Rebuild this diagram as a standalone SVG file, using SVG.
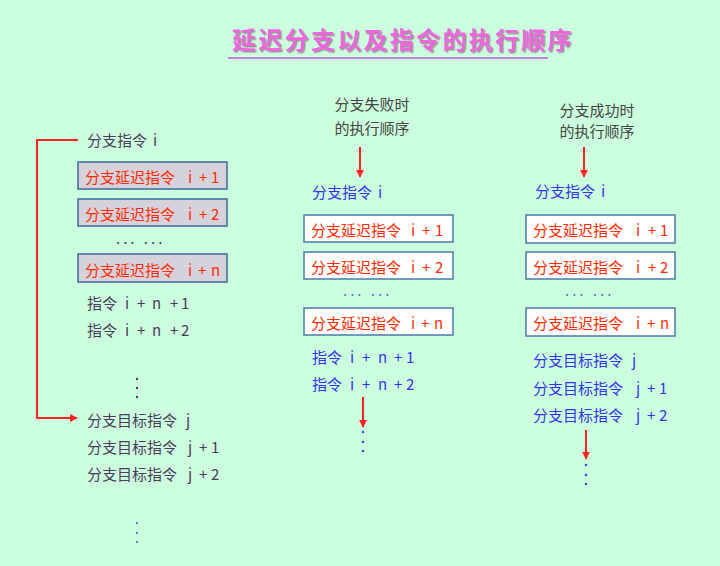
<svg xmlns="http://www.w3.org/2000/svg" width="720" height="566" viewBox="0 0 720 566">
<style>
text{font-family:"Noto Sans CJK SC","Liberation Sans",sans-serif;font-size:15px}
.dk{fill:#4B3B5B}
.bl{fill:#3333EE}
.cap{fill:#444444;text-anchor:middle}
.rt{fill:#FF2A00}
.gbox{fill:#D6D2DC;stroke:#3A6A9A;stroke-width:1.5}
.wbox{fill:#FFFFFF;stroke:#4A7AAA;stroke-width:1.5}
.ln{stroke:#FF2222;stroke-width:2;fill:none}
.dot{fill:#4B3B5B}
.bdot{fill:#3355DD}
</style>
<defs>
<marker id="ah" viewBox="0 0 10 10" refX="9" refY="5" markerWidth="4" markerHeight="4" orient="auto">
<path d="M0,0 L10,5 L0,10 z" fill="#FF2222"/>
</marker>
<filter id="sh" x="-5%" y="-20%" width="110%" height="150%">
<feDropShadow dx="1.5" dy="1.5" stdDeviation="0.6" flood-color="#999999"/>
</filter>
</defs>
<rect width="720" height="566" fill="#CCFFDD"/>

<g id="title">
<text x="232" y="49" style="font-size:24px;font-weight:bold;letter-spacing:2.3px;fill:#EE66DD" filter="url(#sh)">延迟分支以及指令的执行顺序</text>
<line x1="228" y1="58" x2="548" y2="58" stroke="#BB88DD" stroke-width="2"/>
<line x1="228" y1="64" x2="550" y2="64" stroke="#9955BB" stroke-width="3" filter="url(#sh)"/>
</g>

<g id="connectors">
<polyline class="ln" points="78,140 37,140 37,418 77,418" marker-end="url(#ah)"/>
<line class="ln" x1="360" y1="147" x2="360" y2="177" marker-end="url(#ah)"/>
<line class="ln" x1="584" y1="147" x2="584" y2="177" marker-end="url(#ah)"/>
<line class="ln" x1="363" y1="397" x2="363" y2="427" marker-end="url(#ah)"/>
<line class="ln" x1="586" y1="430" x2="586" y2="459" marker-end="url(#ah)"/>
</g>

<g id="left-col">
<g id="l-branch"><text class="dk" x="87" y="146">分支指令<tspan x="148 153"> i</tspan></text></g>
<g id="l-delay1"><rect class="gbox" x="78" y="162" width="149" height="27"/><text class="rt" x="85" y="183">分支延迟指令<tspan x="178 188 199 211"> i+1</tspan></text></g>
<g id="l-delay2"><rect class="gbox" x="78" y="199" width="149" height="27"/><text class="rt" x="85" y="220">分支延迟指令<tspan x="178 188 199 211"> i+2</tspan></text></g>
<g id="l-ell"><text class="dk" x="116" y="244" style="letter-spacing:3px">... ...</text></g>
<g id="l-delayn"><rect class="gbox" x="78" y="254" width="149" height="28"/><text class="rt" x="85" y="276">分支延迟指令<tspan x="178 188 198 211"> i+n</tspan></text></g>
<g id="l-n1"><text class="dk" x="87" y="309">指令<tspan x="118 125 137 152 162 170 181"> i+n +1</tspan></text></g>
<g id="l-n2"><text class="dk" x="87" y="336">指令<tspan x="118 125 137 152 162 170 181"> i+n +2</tspan></text></g>
<g id="l-vdots"><circle class="dot" cx="137" cy="379" r="1.2"/><circle class="dot" cx="137" cy="388" r="1.2"/><circle class="dot" cx="137" cy="397" r="1.2"/></g>
<g id="l-tj"><text class="dk" x="87" y="426">分支目标指令<tspan x="179 186"> j</tspan></text></g>
<g id="l-tj1"><text class="dk" x="87" y="453">分支目标指令<tspan x="179 188 199 211"> j+1</tspan></text></g>
<g id="l-tj2"><text class="dk" x="87" y="480">分支目标指令<tspan x="179 188 199 211"> j+2</tspan></text></g>
<g id="l-vdots2"><circle class="bdot" cx="137" cy="523" r="1"/><circle class="bdot" cx="137" cy="533" r="1"/><circle class="bdot" cx="137" cy="542" r="1"/></g>
</g>

<g id="mid-col">
<g id="m-cap"><text class="cap" x="372" y="110">分支失败时</text><text class="cap" x="372" y="134">的执行顺序</text></g>
<g id="m-branch"><text class="bl" x="312" y="198">分支指令<tspan x="373 378"> i</tspan></text></g>
<g id="m-delay1"><rect class="wbox" x="304" y="215" width="149" height="27"/><text class="rt" x="311" y="236">分支延迟指令<tspan x="403 411 422 435"> i+1</tspan></text></g>
<g id="m-delay2"><rect class="wbox" x="304" y="252" width="149" height="27"/><text class="rt" x="311" y="273">分支延迟指令<tspan x="403 411 422 435"> i+2</tspan></text></g>
<g id="m-ell"><text x="343" y="296" style="fill:#5577CC;letter-spacing:3px">... ...</text></g>
<g id="m-delayn"><rect class="wbox" x="304" y="308" width="149" height="27"/><text class="rt" x="311" y="329">分支延迟指令<tspan x="403 411 421 434"> i+n</tspan></text></g>
<g id="m-n1"><text class="bl" x="312" y="363">指令<tspan x="343 350 362 378 388 394 406"> i+n +1</tspan></text></g>
<g id="m-n2"><text class="bl" x="312" y="390">指令<tspan x="343 350 362 378 388 394 406"> i+n +2</tspan></text></g>
<g id="m-vdots"><circle class="bdot" cx="363" cy="432" r="1.3"/><circle class="bdot" cx="363" cy="442" r="1.3"/><circle class="bdot" cx="363" cy="451" r="1.3"/></g>
</g>

<g id="right-col">
<g id="r-cap"><text class="cap" x="597" y="116">分支成功时</text><text class="cap" x="597" y="137">的执行顺序</text></g>
<g id="r-branch"><text class="bl" x="535" y="197">分支指令<tspan x="596 601"> i</tspan></text></g>
<g id="r-delay1"><rect class="wbox" x="526" y="215" width="149" height="28"/><text class="rt" x="533" y="236">分支延迟指令<tspan x="626 636 648 660"> i+1</tspan></text></g>
<g id="r-delay2"><rect class="wbox" x="526" y="252" width="149" height="27"/><text class="rt" x="533" y="273">分支延迟指令<tspan x="626 636 648 660"> i+2</tspan></text></g>
<g id="r-ell"><text x="565" y="296" style="fill:#5577CC;letter-spacing:3px">... ...</text></g>
<g id="r-delayn"><rect class="wbox" x="526" y="308" width="149" height="28"/><text class="rt" x="533" y="329">分支延迟指令<tspan x="626 636 647 660"> i+n</tspan></text></g>
<g id="r-tj"><text class="bl" x="533" y="366">分支目标指令<tspan x="625 632"> j</tspan></text></g>
<g id="r-tj1"><text class="bl" x="533" y="394">分支目标指令<tspan x="625 636 647 659"> j+1</tspan></text></g>
<g id="r-tj2"><text class="bl" x="533" y="421">分支目标指令<tspan x="625 636 647 659"> j+2</tspan></text></g>
<g id="r-vdots"><circle class="bdot" cx="586" cy="465" r="1.3"/><circle class="bdot" cx="586" cy="475" r="1.3"/><circle class="bdot" cx="586" cy="484" r="1.3"/></g>
</g>
</svg>
